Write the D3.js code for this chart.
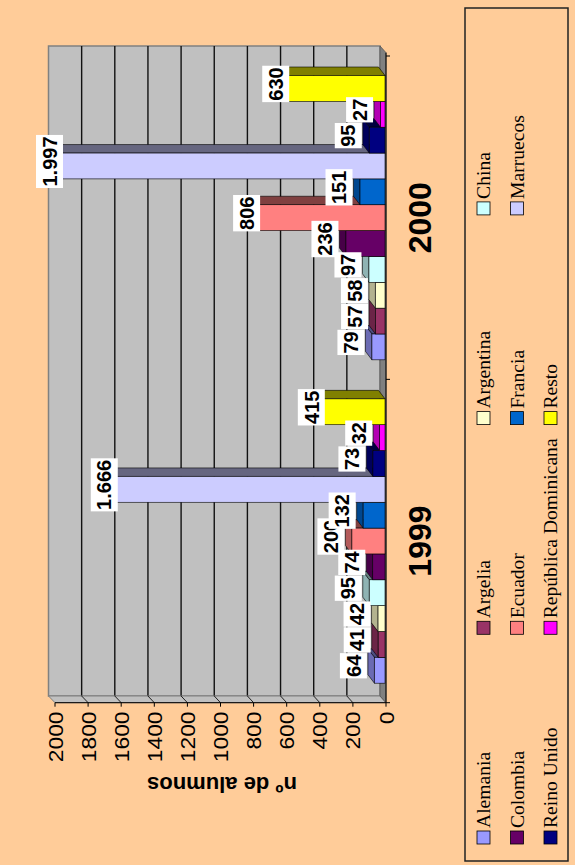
<!DOCTYPE html>
<html>
<head>
<meta charset="utf-8">
<script src="https://cdn.jsdelivr.net/npm/d3@7"></script>
<style>
  body { margin: 0; background: #FFCC99; }
  text { font-family: "Liberation Sans", Arial, sans-serif; }
</style>
</head>
<body>
<svg id="chart" width="575" height="865"></svg>
<script>
// Alumnos extranjeros por país de origen
const years = ["1999", "2000"];
const countries = ["Alemania", "Argelia", "Argentina", "China", "Colombia", "Ecuador",
                   "Francia", "Marruecos", "Reino Unido", "República Dominicana", "Resto"];
const values1999 = [64, 41, 42, 95, 74, 200, 132, 1666, 73, 32, 415];
const values2000 = [79, 57, 58, 97, 236, 806, 151, 1997, 95, 27, 630];
const colors = ["#9999FF", "#993366", "#FFFFCC", "#CCFFFF", "#660066", "#FF8080",
                "#0066CC", "#CCCCFF", "#000080", "#FF00FF", "#FFFF00"];
const yTicks = [0, 200, 400, 600, 800, 1000, 1200, 1400, 1600, 1800, 2000];

let svg = d3.select("#chart");
svg.append("rect").attr("width", 575).attr("height", 865).attr("fill", "#FFCC99");

// whole chart is turned a quarter turn: draw it upright, then rotate
let g = svg.append("g").attr("transform", "translate(0,865) rotate(-90)");

const fmt = d3.formatLocale({decimal: ",", thousands: ".", grouping: [3], currency: ["", "€"]}).format(",d");

// stretch text along its reading direction
function stretch(sel, k) {
  sel.each(function () {
    const w = this.getComputedTextLength();
    this.setAttribute("textLength", w * k);
    this.setAttribute("lengthAdjust", "spacingAndGlyphs");
  });
}

let x0 = d3.scaleBand().domain(years).range([162.3, 809]);
let x1 = d3.scaleBand().domain(countries).range([0, x0.bandwidth()]).paddingOuter(0.755);
let yFront = d3.scaleLinear().domain([0, 2000]).range([386, 55]);
let yBack = d3.scaleLinear().domain([0, 2000]).range([380, 48.5]);
let yBar = d3.scaleLinear().domain([0, 2000]).range([385, 54]);

const uF0 = 162.3, uF1 = 812.3, uB0 = 169, uB1 = 819; // wall extents
const du = 8.5, dv = -6.5; // bar depth

const line = d3.line();

// back wall
g.append("rect")
  .attr("x", uB0).attr("y", yBack(2000))
  .attr("width", uB1 - uB0).attr("height", yBack(0) - yBack(2000))
  .attr("fill", "#C0C0C0").attr("stroke", "#808080").attr("stroke-width", 1.5);
g.selectAll(".grid").data(yTicks.slice(1, -1)).join("line")
  .attr("x1", uB0).attr("x2", uB1)
  .attr("y1", d => yBack(d)).attr("y2", d => yBack(d))
  .attr("stroke", "#111").attr("stroke-width", 1.4);

// side wall
g.append("path")
  .attr("d", line([[uF0, yFront(0)], [uF0, yFront(2000)], [uB0, yBack(2000)], [uB0, yBack(0)]]) + "Z")
  .attr("fill", "#C0C0C0").attr("stroke", "#808080").attr("stroke-width", 1);
g.selectAll(".sgrid").data(yTicks.slice(1, -1)).join("line")
  .attr("x1", uF0).attr("x2", uB0)
  .attr("y1", d => yFront(d)).attr("y2", d => yBack(d))
  .attr("stroke", "#222").attr("stroke-width", 1);

// floor
g.append("path")
  .attr("d", line([[uF0, yFront(0)], [uF1, yFront(0)], [uB1, yBack(0)], [uB0, yBack(0)]]) + "Z")
  .attr("fill", "#808080").attr("stroke", "#555").attr("stroke-width", 0.8);

// bars
const rows = [];
years.forEach((yr, j) => {
  const vals = j === 0 ? values1999 : values2000;
  countries.forEach((c, i) => rows.push({year: yr, country: c, value: vals[i], color: colors[i]}));
});

function shade(c, k) {
  const r = d3.rgb(c);
  return d3.rgb(r.r * k, r.g * k, r.b * k).formatHex();
}

const w = x1.bandwidth();
rows.forEach(d => {
  const x = x0(d.year) + x1(d.country);
  const vt = yBar(d.value), vb = yBar(0);
  g.append("path")
    .attr("d", line([[x + w, vb], [x + w, vt], [x + w + du, vt + dv], [x + w + du, vb + dv]]) + "Z")
    .attr("fill", shade(d.color, 0.5)).attr("stroke", "#000").attr("stroke-width", 0.6);
  g.append("path")
    .attr("d", line([[x, vt], [x + w, vt], [x + w + du, vt + dv], [x + du, vt + dv]]) + "Z")
    .attr("fill", shade(d.color, 0.7)).attr("stroke", "#000").attr("stroke-width", 0.6);
  g.append("rect")
    .attr("x", x).attr("y", vt).attr("width", w).attr("height", vb - vt)
    .attr("fill", d.color).attr("stroke", "#000").attr("stroke-width", 0.6);
});

// value axis
g.append("line").attr("x1", uF0).attr("x2", uF0)
  .attr("y1", yFront(0)).attr("y2", yFront(2000)).attr("stroke", "#000");
g.selectAll(".ytick").data(yTicks).join("line")
  .attr("x1", uF0 - 4).attr("x2", uF0)
  .attr("y1", d => yFront(d)).attr("y2", d => yFront(d))
  .attr("stroke", "#000");
g.selectAll(".ylab").data(yTicks).join("text")
  .attr("x", uF0 - 8.8).attr("y", d => yFront(d) + 7.5)
  .attr("text-anchor", "end").attr("font-size", 20)
  .text(d => d)
  .call(stretch, 1.14);

// category axis
g.append("line").attr("x1", uF0).attr("x2", uF1)
  .attr("y1", yFront(0)).attr("y2", yFront(0)).attr("stroke", "#000");
g.selectAll(".xtick").data([x0.range()[0], x0(years[1]), x0.range()[1]]).join("line")
  .attr("x1", d => d).attr("x2", d => d)
  .attr("y1", yFront(0)).attr("y2", yFront(0) + 4)
  .attr("stroke", "#000");
g.selectAll(".xlab").data(years).join("text")
  .attr("x", d => x0(d) + x0.bandwidth() / 2).attr("y", 431)
  .attr("text-anchor", "middle").attr("font-size", 32).attr("font-weight", "bold")
  .text(d => d);

// axis title
g.append("text")
  .attr("transform", "translate(88,222) rotate(-90)")
  .attr("text-anchor", "middle").attr("font-size", 22).attr("font-weight", "bold")
  .text("nº de alumnos");

// data labels, small ones pushed a bit further out
rows.forEach(d => {
  const uc = x0(d.year) + x1(d.country) + w / 2 + 4.5;
  const vc = yBar(d.value) - 5 - (d.value < 300 ? 16 : 0);
  const lg = g.append("g");
  const box = lg.append("rect").attr("fill", "#fff");
  const t = lg.append("text")
    .attr("x", uc).attr("y", vc).attr("dy", "0.36em")
    .attr("text-anchor", "middle").attr("font-size", 20).attr("font-weight", "bold")
    .text(fmt(d.value));
  const tw = t.node().getComputedTextLength() + 3;
  box.attr("x", uc - tw / 2).attr("y", vc - 13.5).attr("width", tw).attr("height", 27);
});

// legend
g.append("rect")
  .attr("x", 4).attr("y", 465).attr("width", 853).attr("height", 103)
  .attr("fill", "none").attr("stroke", "#222").attr("stroke-width", 1.5);
let leg = g.selectAll(".leg").data(countries).join("g")
  .attr("transform", (d, i) => `translate(${21 + 209.7 * (i % 4)},${477 + 33.5 * Math.floor(i / 4)})`);
leg.append("rect")
  .attr("width", 13).attr("height", 13)
  .attr("fill", (d, i) => colors[i]).attr("stroke", "#000").attr("stroke-width", 0.8);
leg.append("text")
  .attr("x", 16).attr("y", 13)
  .attr("font-size", 19)
  .style("font-family", "'Liberation Serif', 'Times New Roman', serif")
  .text(d => d)
  .call(stretch, 1.03);
</script>
</body>
</html>
